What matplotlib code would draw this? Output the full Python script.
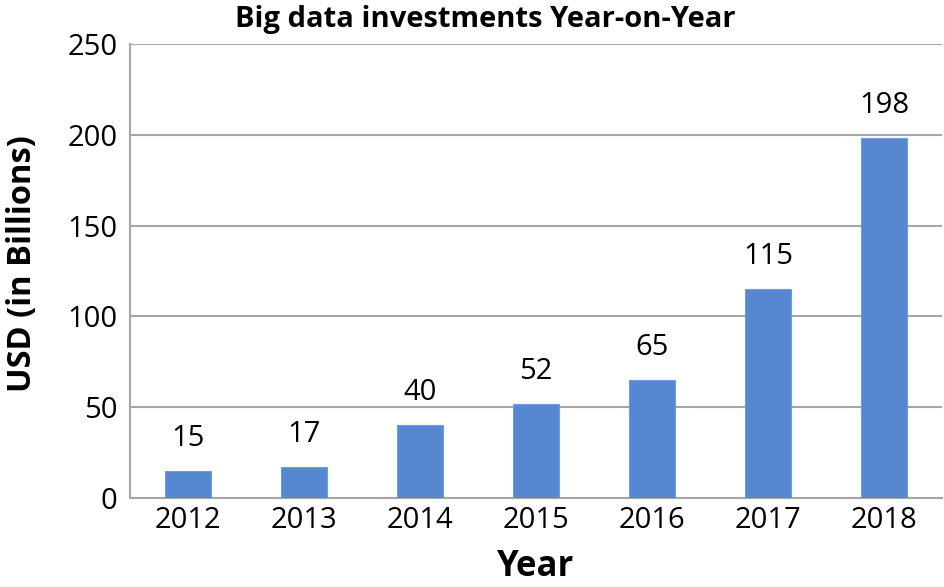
import matplotlib
matplotlib.use("Agg")
import matplotlib.pyplot as plt

years = ["2012", "2013", "2014", "2015", "2016", "2017", "2018"]
values = [15, 17, 40, 52, 65, 115, 198]
yticks = [0, 50, 100, 150, 200, 250]

plt.rcParams['font.family'] = ['Open Sans', 'DejaVu Sans']

fig = plt.figure(figsize=(9.45, 5.87), dpi=100)
ax = fig.add_axes([130/945, 1-498/587, (942-130)/945, (498-44)/587])

x = range(len(years))
bars = ax.bar(x, values, width=0.40, color='#5588D0', edgecolor='#6F9CDB', linewidth=0.8, zorder=3)
ax.set_xlim(-0.5, len(years)-0.5)
ax.set_ylim(0, 250)
ax.set_yticks(yticks)
ax.set_xticks(list(x))
ax.set_xticklabels(years)
ax.tick_params(axis='both', length=0, labelsize=21, colors='black')
ax.tick_params(axis='y', pad=9)
ax.tick_params(axis='x', pad=6)
ax.grid(axis='y', color='#A6A6A6', linewidth=1.5, zorder=0)
for s in ['top', 'right']:
    ax.spines[s].set_visible(False)
for s in ['left', 'bottom']:
    ax.spines[s].set_color('#A6A6A6')
    ax.spines[s].set_linewidth(1.5)

for i, v in enumerate(values):
    ax.annotate(str(v), (i, v), xytext=(0, 13), textcoords='offset points',
                ha='center', va='bottom', fontsize=21)

fig.text(485/945, 1-19/587, "Big data investments Year-on-Year", ha='center', va='center',
         fontsize=21, fontweight='bold')
fig.text(23/945, 1-264/587, "USD (in Billions)", ha='center', va='center', rotation=90,
         fontsize=23.5, fontweight='bold')
fig.text(536/945, 1-567/587, "Year", ha='center', va='center', fontsize=25, fontweight='bold')

fig.savefig("out.png", dpi=100)
